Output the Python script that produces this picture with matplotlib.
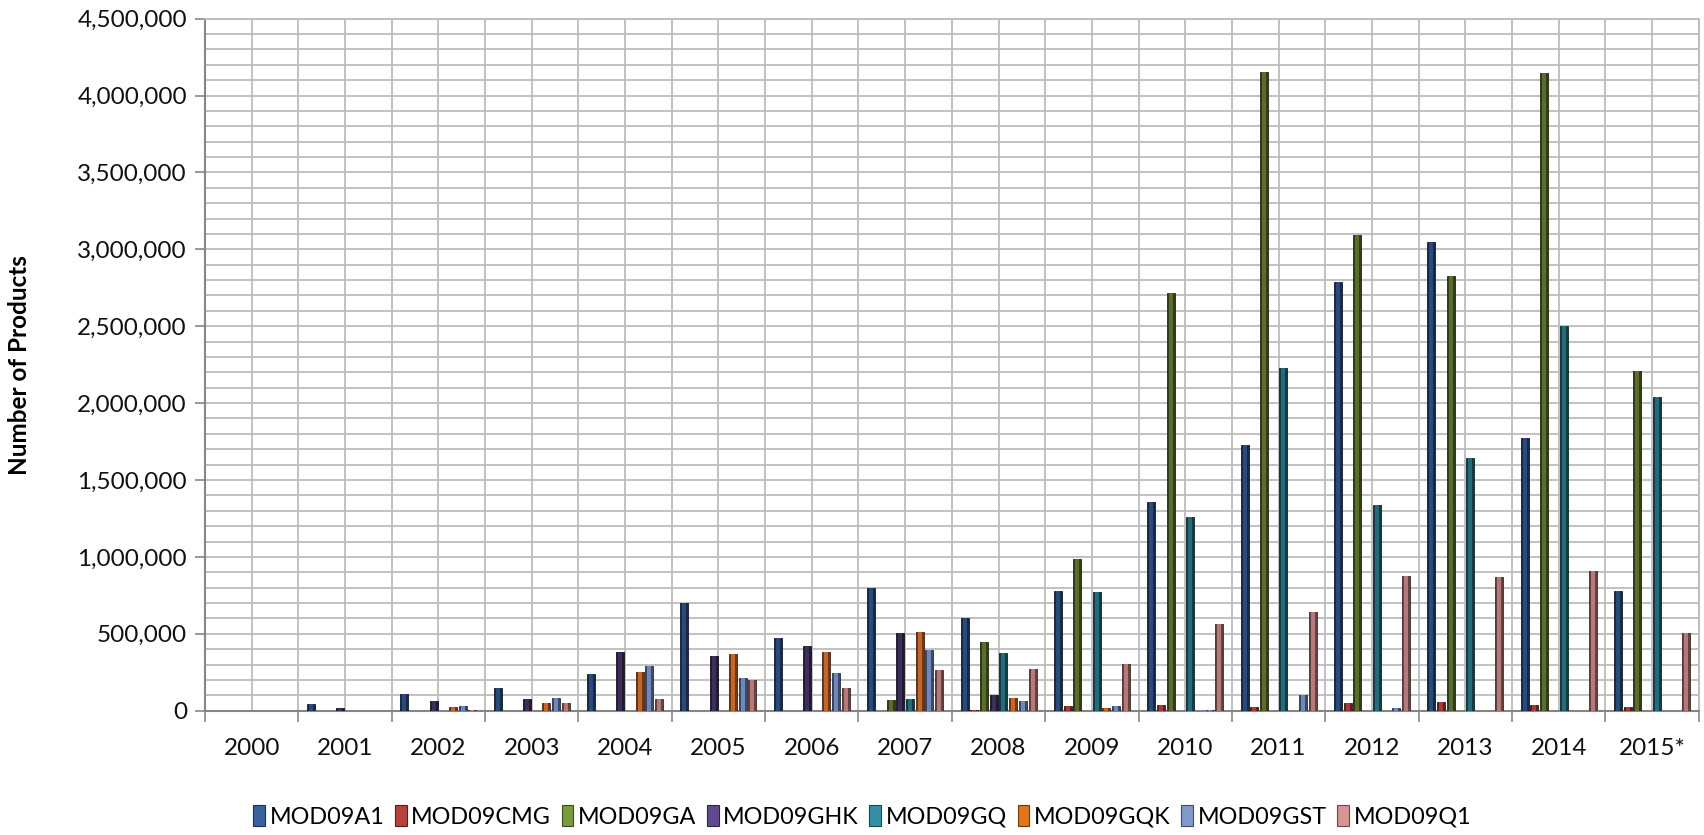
import numpy as np
import matplotlib
matplotlib.use("Agg")
import matplotlib.pyplot as plt
from matplotlib.ticker import FuncFormatter, MultipleLocator
from matplotlib.patches import Patch
from matplotlib.colors import to_rgb

plt.rcParams['font.family'] = ['Lato', 'DejaVu Sans']

years = ['2000', '2001', '2002', '2003', '2004', '2005', '2006', '2007',
         '2008', '2009', '2010', '2011', '2012', '2013', '2014', '2015*']
series = ['MOD09A1', 'MOD09CMG', 'MOD09GA', 'MOD09GHK', 'MOD09GQ',
          'MOD09GQK', 'MOD09GST', 'MOD09Q1']

mod09a1 = [0, 41000, 108000, 150000, 238000, 703000, 473000, 796000,
           605000, 778000, 1357000, 1725000, 2789000, 3050000, 1773000, 777000]
mod09cmg = [0, 0, 0, 0, 0, 0, 0, 0,
            3000, 33000, 35000, 24000, 52000, 59000, 37000, 24000]
mod09ga = [0, 0, 0, 0, 0, 0, 0, 69000,
           447000, 986000, 2714000, 4155000, 3095000, 2826000, 4144000, 2209000]
mod09ghk = [0, 15000, 65000, 76000, 384000, 358000, 421000, 508000,
            102000, 0, 0, 0, 0, 0, 0, 0]
mod09gq = [0, 0, 0, 0, 0, 0, 0, 78000,
           377000, 774000, 1257000, 2230000, 1337000, 1641000, 2501000, 2038000]
mod09gqk = [0, 0, 26000, 48000, 251000, 371000, 384000, 514000,
            82000, 17000, 0, 0, 0, 0, 0, 0]
mod09gst = [0, 0, 28000, 85000, 290000, 215000, 243000, 395000,
            63000, 33000, 5000, 100000, 15000, 0, 0, 0]
mod09q1 = [0, 0, 5000, 52000, 74000, 200000, 150000, 265000,
           273000, 301000, 562000, 644000, 878000, 866000, 905000, 503000]

values = [mod09a1, mod09cmg, mod09ga, mod09ghk, mod09gq, mod09gqk, mod09gst, mod09q1]
colors = ['#2a4a7e', '#a63a35', '#5a6d2c', '#3d2e5c', '#246b7b', '#c4662b', '#6f87b9', '#b5797a']
legend_colors = ['#3b62a0', '#b8413c', '#7c9a3e', '#604a8c', '#3390a6', '#e0751c', '#8299cc', '#d69493']


def shade(c, f):
    r, g, b = to_rgb(c)
    return (r * f, g * f, b * f)


fig = plt.figure(figsize=(17.04, 8.35), dpi=100)
ax = fig.add_axes([0.1203, 0.1489, 0.8766, 0.8288])

x = np.arange(len(years))
slot = 0.104
w = 0.086
grid_c = '#bcbcbc'

for i, (vals, c) in enumerate(zip(values, colors)):
    xs = x + (i - 3.5) * slot
    v = np.array(vals)
    # dark rim, lighter core to give the bevelled column look
    ax.bar(xs, v, width=w, color=shade(c, 0.55), edgecolor=shade(c, 0.35),
           linewidth=0.6, zorder=3)
    ax.bar(xs, v, width=w * 0.5, color=c, linewidth=0, zorder=4)

ax.set_xlim(-0.5, len(years) - 0.5)
ax.set_ylim(0, 4500000)

# x axis: tick marks at category boundaries, labels at centres
ax.set_xticks(np.arange(-0.5, len(years), 1.0))
ax.set_xticklabels([])
ax.set_xticks(x, minor=True)
ax.set_xticklabels(years, minor=True)
ax.tick_params(axis='x', which='major', length=8, width=1.2, color='#868686', direction='out')
ax.tick_params(axis='x', which='minor', length=0, pad=20, labelsize=17.5, labelcolor='#111111')

ax.yaxis.set_major_locator(MultipleLocator(500000))
ax.yaxis.set_minor_locator(MultipleLocator(100000))
ax.yaxis.set_major_formatter(FuncFormatter(lambda v, p: '{:,.0f}'.format(v)))
ax.tick_params(axis='y', which='major', length=7, width=1.2, color='#868686',
               labelsize=17.5, pad=6, labelcolor='#111111')
ax.tick_params(axis='y', which='minor', length=0)

ax.grid(True, which='both', axis='y', color=grid_c, linewidth=1.3, zorder=0)
ax.grid(True, which='major', axis='x', color=grid_c, linewidth=1.3, zorder=0)
for xc in x:
    ax.axvline(xc, color=grid_c, linewidth=1.3, zorder=0)
ax.set_axisbelow(True)

for s in ['left', 'bottom']:
    ax.spines[s].set_color('#868686')
    ax.spines[s].set_linewidth(1.5)
for s in ['top', 'right']:
    ax.spines[s].set_color(grid_c)
    ax.spines[s].set_linewidth(1.3)

ax.set_ylabel('Number of Products', fontsize=17.5, fontweight='bold')
ax.yaxis.set_label_coords(-0.1165, 0.5)

handles = [Patch(facecolor=c, edgecolor=shade(c, 0.5), linewidth=0.8) for c in legend_colors]
fig.legend(handles, series, loc='center', bbox_to_anchor=(0.506, 0.022), ncol=8,
           frameon=False, fontsize=16.8, handlelength=0.5, handleheight=1.0,
           handletextpad=0.2, columnspacing=0.45, borderpad=0)

fig.savefig('out.png', dpi=100)
